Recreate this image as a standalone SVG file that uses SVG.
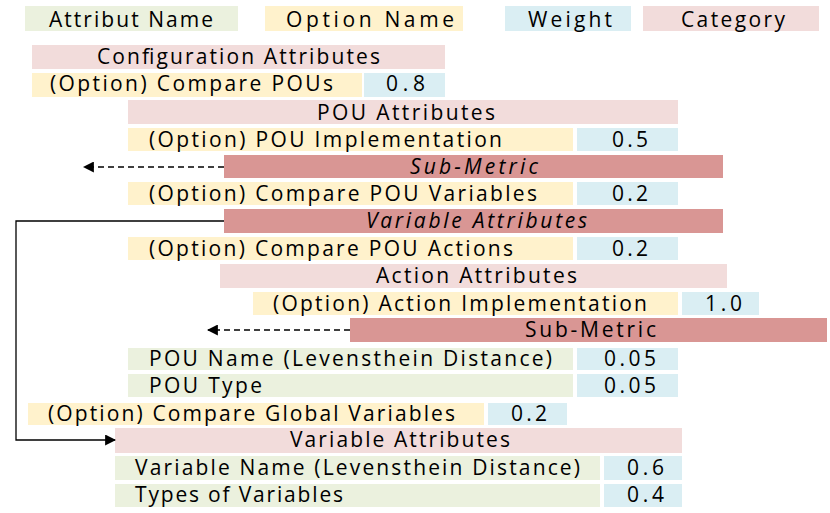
<svg xmlns="http://www.w3.org/2000/svg" width="830" height="513" viewBox="0 0 830 513">
<defs>
<style>
.attr{fill:#EBF1DE}
.opt{fill:#FFF2CC}
.w{fill:#DAEEF3}
.cat{fill:#F2DCDB}
.sub{fill:#D99694}
text{font-family:"Open Sans","Liberation Sans",sans-serif;font-size:21px;fill:#000}
.it{font-style:italic}
.conn{fill:none;stroke:#000;stroke-width:1.3}
.dash{stroke-dasharray:6 4}
</style>
<marker id="ah" viewBox="0 0 10 10" refX="9" refY="5" markerWidth="11" markerHeight="11" markerUnits="userSpaceOnUse" orient="auto">
<path d="M0,0 L10,5 L0,10 Z" fill="#000"/>
</marker>
</defs>
<g id="legend">
<rect class="attr" x="25" y="6" width="213" height="25"/><text x="49" y="27" textLength="164" lengthAdjust="spacing">Attribut Name</text>
<rect class="opt" x="265" y="6" width="198" height="25"/><text x="286" y="27" textLength="168" lengthAdjust="spacing">Option Name</text>
<rect class="w" x="505" y="6" width="126" height="25"/><text x="528" y="27" textLength="84" lengthAdjust="spacing">Weight</text>
<rect class="cat" x="643" y="6" width="176" height="25"/><text x="681" y="27" textLength="104" lengthAdjust="spacing">Category</text>
</g>
<g id="config-attributes">
<rect class="cat" x="32" y="45" width="413" height="24"/><text x="97" y="64" textLength="283" lengthAdjust="spacing">Configuration Attributes</text>
</g>
<g id="compare-pous">
<rect class="opt" x="32" y="73" width="330" height="24"/><text x="50" y="91" textLength="283" lengthAdjust="spacing">(Option) Compare POUs</text>
<rect class="w" x="364" y="73" width="81" height="24"/><text x="386" y="91" textLength="39" lengthAdjust="spacing">0.8</text>
</g>
<g id="pou-attributes">
<rect class="cat" x="128" y="100" width="550" height="24"/><text x="317" y="120" textLength="178" lengthAdjust="spacing">POU Attributes</text>
</g>
<g id="pou-implementation">
<rect class="opt" x="128" y="128" width="445" height="23"/><text x="149" y="147" textLength="353" lengthAdjust="spacing">(Option) POU Implementation</text>
<rect class="w" x="577" y="128" width="101" height="23"/><text x="612" y="147" textLength="36" lengthAdjust="spacing">0.5</text>
</g>
<g id="sub-metric-1">
<rect class="sub" x="224" y="155" width="499" height="23"/><text class="it" x="410" y="174" textLength="128" lengthAdjust="spacing">Sub-Metric</text>
</g>
<g id="compare-pou-variables">
<rect class="opt" x="128" y="182" width="445" height="23"/><text x="149" y="201" textLength="388" lengthAdjust="spacing">(Option) Compare POU Variables</text>
<rect class="w" x="577" y="182" width="101" height="23"/><text x="612" y="201" textLength="36" lengthAdjust="spacing">0.2</text>
</g>
<g id="variable-attributes-ref">
<rect class="sub" x="224" y="209" width="499" height="24"/><text class="it" x="366" y="228" textLength="221" lengthAdjust="spacing">Variable Attributes</text>
</g>
<g id="compare-pou-actions">
<rect class="opt" x="128" y="237" width="445" height="23"/><text x="149" y="256" textLength="364" lengthAdjust="spacing">(Option) Compare POU Actions</text>
<rect class="w" x="577" y="237" width="101" height="23"/><text x="612" y="256" textLength="36" lengthAdjust="spacing">0.2</text>
</g>
<g id="action-attributes">
<rect class="cat" x="220" y="264" width="507" height="24"/><text x="376" y="283" textLength="201" lengthAdjust="spacing">Action Attributes</text>
</g>
<g id="action-implementation">
<rect class="opt" x="253" y="292" width="425" height="23"/><text x="273" y="311" textLength="374" lengthAdjust="spacing">(Option) Action Implementation</text>
<rect class="w" x="682" y="292" width="77" height="23"/><text x="705" y="311" textLength="37" lengthAdjust="spacing">1.0</text>
</g>
<g id="sub-metric-2">
<rect class="sub" x="350" y="318" width="477" height="24"/><text x="525" y="337" textLength="131" lengthAdjust="spacing">Sub-Metric</text>
</g>
<g id="pou-name">
<rect class="attr" x="128" y="348" width="445" height="22"/><text x="149" y="366" textLength="403" lengthAdjust="spacing">POU Name (Levensthein Distance)</text>
<rect class="w" x="577" y="348" width="101" height="22"/><text x="604" y="366" textLength="52" lengthAdjust="spacing">0.05</text>
</g>
<g id="pou-type">
<rect class="attr" x="128" y="374" width="445" height="23"/><text x="149" y="393" textLength="113" lengthAdjust="spacing">POU Type</text>
<rect class="w" x="577" y="374" width="101" height="23"/><text x="604" y="393" textLength="52" lengthAdjust="spacing">0.05</text>
</g>
<g id="compare-global-variables">
<rect class="opt" x="28" y="403" width="456" height="22"/><text x="48" y="421" textLength="407" lengthAdjust="spacing">(Option) Compare Global Variables</text>
<rect class="w" x="488" y="403" width="79" height="22"/><text x="511" y="421" textLength="36" lengthAdjust="spacing">0.2</text>
</g>
<g id="variable-attributes">
<rect class="cat" x="115" y="428" width="567" height="25"/><text x="290" y="447" textLength="220" lengthAdjust="spacing">Variable Attributes</text>
</g>
<g id="variable-name">
<rect class="attr" x="115" y="456" width="485" height="24"/><text x="135" y="475" textLength="445" lengthAdjust="spacing">Variable Name (Levensthein Distance)</text>
<rect class="w" x="604" y="456" width="78" height="24"/><text x="627" y="475" textLength="37" lengthAdjust="spacing">0.6</text>
</g>
<g id="types-of-variables">
<rect class="attr" x="115" y="484" width="485" height="23"/><text x="135" y="502" textLength="208" lengthAdjust="spacing">Types of Variables</text>
<rect class="w" x="604" y="484" width="78" height="23"/><text x="627" y="502" textLength="37" lengthAdjust="spacing">0.4</text>
</g>
<g id="connectors">
<path class="conn dash" d="M224,167 H84" marker-end="url(#ah)"/>
<path class="conn dash" d="M350,330 H208" marker-end="url(#ah)"/>
<path class="conn" d="M224,221 H16 V440 H115" marker-end="url(#ah)"/>
</g>
</svg>
